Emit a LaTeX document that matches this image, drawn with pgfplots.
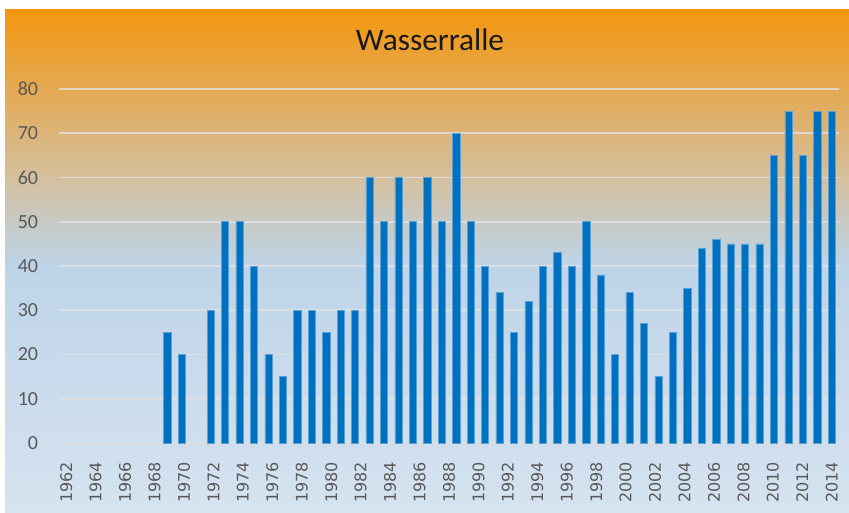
\documentclass[border=0pt]{standalone}
\usepackage{pgfplots}
\pgfplotsset{compat=1.18}
\usepackage{fontspec}
\setmainfont{Carlito}
\newfontfamily\dejavu{DejaVu Sans}

\definecolor{barblue}{RGB}{0,112,192}
\definecolor{gridgray}{RGB}{225,225,225}
\definecolor{tickgray}{RGB}{89,89,89}
% background gradient, top to bottom
\definecolor{bgA}{RGB}{243,150,14}
\definecolor{bgB}{RGB}{226,172,92}
\definecolor{bgC}{RGB}{212,192,160}
\definecolor{bgD}{RGB}{198,202,198}
\definecolor{bgE}{RGB}{190,212,232}
\definecolor{bgF}{RGB}{214,227,240}
\pgfdeclareverticalshading{bgshade}{100bp}{color(0bp)=(bgF); color(25bp)=(bgF);
  color(49.6bp)=(bgE); color(53.6bp)=(bgD); color(58.1bp)=(bgC);
  color(66bp)=(bgB); color(75bp)=(bgA); color(100bp)=(bgA)}

% bars sit on slots 0..53; the year labels are spread evenly over the same span
\pgfplotstableread{
slot count
7 25
8 20
10 30
11 50
12 50
13 40
14 20
15 15
16 30
17 30
18 25
19 30
20 30
21 60
22 50
23 60
24 50
25 60
26 50
27 70
28 50
29 40
30 34
31 25
32 32
33 40
34 43
35 40
36 50
37 38
38 20
39 34
40 27
41 15
42 25
43 35
44 44
45 46
46 45
47 45
48 45
49 65
50 75
51 65
52 75
53 75
}\wasserralle

\begin{document}
\begin{tikzpicture}
\useasboundingbox (0pt,0pt) rectangle (636.75pt,384pt);
\shade[shading=bgshade] (3.75pt,0pt) rectangle (636.75pt,376.5pt);
\node[anchor=base, font=\fontsize{23.5}{23.5}\selectfont, text=black!90]
  at (322.5pt,346pt) {Wasserralle};
\begin{axis}[
    at={(44.25pt,51.75pt)}, anchor=south west,
    scale only axis,
    width=585pt, height=265.5pt,
    xmin=-0.5, xmax=53.5,
    ymin=0, ymax=80,
    ytick={0,10,...,80},
    xtick={0,2.0385,4.0769,6.1154,8.1538,10.1923,12.2308,14.2692,16.3077,
      18.3462,20.3846,22.4231,24.4615,26.5,28.5385,30.5769,32.6154,34.6538,
      36.6923,38.7308,40.7692,42.8077,44.8462,46.8846,48.9231,50.9615,53},
    xticklabels={1962,1964,1966,1968,1970,1972,1974,1976,1978,1980,1982,1984,
      1986,1988,1990,1992,1994,1996,1998,2000,2002,2004,2006,2008,2010,2012,2014},
    axis line style={draw=none},
    major tick length=0pt,
    ymajorgrids,
    major grid style={gridgray, opacity=0.8, line width=1.2pt},
    /pgf/number format/assume math mode=true,
    yticklabel style={anchor=east, inner sep=0pt, xshift=-15.5pt,
      font=\fontsize{15}{15}\selectfont, text=tickgray},
    xticklabel style={yshift=-14pt, rotate=90, anchor=east, inner sep=0pt,
      font=\fontspec{DejaVu Sans}\fontsize{12}{12}\selectfont, text=tickgray},
    ]
\addplot[ybar, bar width=0.5, bar shift=0pt, fill=barblue,
  draw=barblue!65!white, line width=0.5pt] table[x=slot, y=count] {\wasserralle};
\end{axis}
\end{tikzpicture}
\end{document}
